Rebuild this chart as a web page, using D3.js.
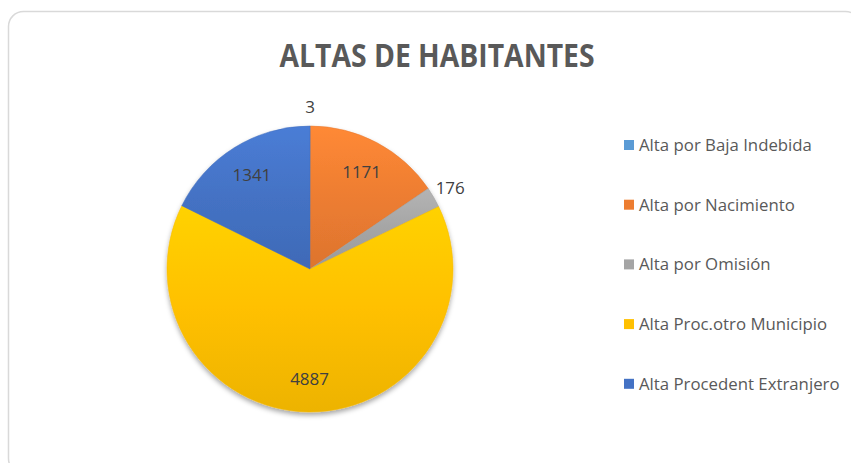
<!DOCTYPE html>
<html lang="es">
<head>
    <meta charset="UTF-8">
    <title>Altas de habitantes</title>
    <script src="https://d3js.org/d3.v7.min.js"></script>
    <style>
        * { margin: 0; padding: 0; box-sizing: border-box; }
        body { background: #fff; font-family: "Open Sans", Arial, sans-serif; }
    </style>
</head>
<body>
    <div id="chart"></div>
    <script>
        // datos
        const categories = [
            "Alta por Baja Indebida",
            "Alta por Nacimiento",
            "Alta por Omisión",
            "Alta Proc.otro Municipio",
            "Alta Procedent Extranjero"
        ];
        const values = [3, 1171, 176, 4887, 1341];
        const colors = ["#5B9BD5", "#ED7D31", "#A5A5A5", "#FFC000", "#4472C4"];
        // etiquetas fuera del sector (las pequeñas)
        const outsideLabel = [true, false, true, false, false];

        const W = 851, H = 463;
        const cx = 310, cy = 269, r = 143;

        const svg = d3.select("#chart")
                      .append("svg")
                      .attr("width", W)
                      .attr("height", H);

        const defs = svg.append("defs");

        // degradado tipo Excel: más claro arriba, más oscuro abajo
        colors.forEach((c, i) => {
            const g = defs.append("linearGradient")
                          .attr("id", "grad" + i)
                          .attr("x1", 0).attr("y1", 0)
                          .attr("x2", 0).attr("y2", 1);
            g.append("stop").attr("offset", "0%").attr("stop-color", d3.color(c).brighter(0.25));
            g.append("stop").attr("offset", "50%").attr("stop-color", c);
            g.append("stop").attr("offset", "100%").attr("stop-color", d3.color(c).darker(0.2));
        });

        const shadow = defs.append("filter")
                           .attr("id", "shadow")
                           .attr("x", "-20%").attr("y", "-20%")
                           .attr("width", "140%").attr("height", "140%");
        shadow.append("feDropShadow")
              .attr("dx", 0).attr("dy", 3)
              .attr("stdDeviation", 2.5)
              .attr("flood-color", "#000")
              .attr("flood-opacity", 0.35);

        // marco del gráfico
        svg.append("rect")
           .attr("x", 8.5).attr("y", 11.5)
           .attr("width", 852).attr("height", 462)
           .attr("rx", 15)
           .attr("fill", "#fff")
           .attr("stroke", "#d9d9d9")
           .attr("stroke-width", 1.5);

        svg.append("text")
           .attr("x", 437)
           .attr("y", 67)
           .attr("text-anchor", "middle")
           .attr("textLength", 315)
           .attr("lengthAdjust", "spacingAndGlyphs")
           .style("font-size", "33px")
           .style("font-weight", "bold")
           .style("fill", "#595959")
           .text("ALTAS DE HABITANTES");

        const data = categories.map((c, i) => ({ name: c, value: values[i], i: i }));

        const pie = d3.pie()
                      .sort(null)
                      .value(d => d.value);

        const arcs = pie(data);

        const arc = d3.arc().innerRadius(0).outerRadius(r);
        const arcIn = d3.arc().innerRadius(r * 0.77).outerRadius(r * 0.77);
        const arcOut = d3.arc().innerRadius(r + 19).outerRadius(r + 19);

        const g = svg.append("g")
                     .attr("transform", `translate(${cx},${cy})`);

        g.append("g")
         .attr("filter", "url(#shadow)")
         .selectAll("path")
         .data(arcs)
         .join("path")
         .attr("d", arc)
         .attr("fill", d => `url(#grad${d.data.i})`)
         .attr("stroke", d => d3.color(colors[d.data.i]).darker(0.1))
         .attr("stroke-width", 0.5);

        g.selectAll(".lbl")
         .data(arcs)
         .join("text")
         .attr("class", "lbl")
         .attr("transform", d => {
             const p = outsideLabel[d.data.i] ? arcOut.centroid(d) : arcIn.centroid(d);
             return `translate(${p[0]},${p[1]})`;
         })
         .attr("text-anchor", "middle")
         .attr("dy", "0.35em")
         .style("font-size", "17px")
         .style("fill", "#404040")
         .text(d => d.data.value);

        // leyenda
        const legend = svg.append("g")
                          .attr("transform", "translate(624, 145)");

        const rows = legend.selectAll("g")
                           .data(data)
                           .join("g")
                           .attr("transform", (d, i) => `translate(0, ${i * 59.7})`);

        rows.append("rect")
            .attr("x", 0).attr("y", -5)
            .attr("width", 10).attr("height", 10)
            .attr("fill", d => colors[d.i]);

        rows.append("text")
            .attr("x", 15)
            .attr("dy", "0.35em")
            .style("font-size", "16.8px")
            .style("fill", "#595959")
            .text(d => d.name);
    </script>
</body>
</html>
